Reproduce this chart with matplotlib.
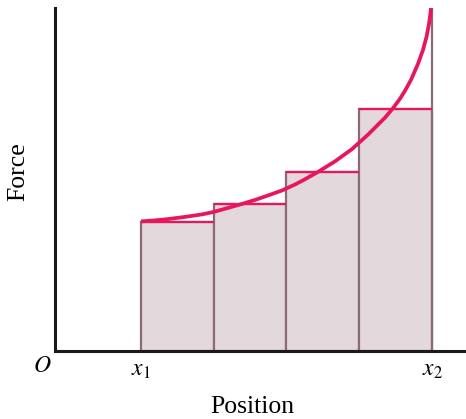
import numpy as np
import matplotlib
matplotlib.use('Agg')
import matplotlib.pyplot as plt

plt.rcParams['font.family'] = ['Liberation Serif', 'DejaVu Serif']
plt.rcParams['mathtext.fontset'] = 'stix'

# curve (position, force), arbitrary units
curve_x = [86, 100, 113, 130, 147, 158, 173, 187, 200, 213, 227, 240, 247, 263,
           280, 297, 313, 330, 338, 345, 350, 356, 363, 368, 371.5, 374, 375.5, 376]
curve_y = [130, 131, 132.3, 134.5, 137, 139.3, 143.5, 147.5, 151.5, 156, 161, 167, 170.6, 179.6,
           190.2, 202.5, 217, 234, 243.5, 253, 261, 272, 288, 302, 315, 328, 339, 344]

# rectangles between x1 and x2
bar_left = [86, 158.7, 231.3, 304]
bar_width = 72.7
bar_height = [129, 147, 180, 243]

x1, x2 = 86, 376.7

fill_col = '#e3d9dc'
edge_col = '#8c6a75'
curve_col = '#e8175d'

fig = plt.figure(figsize=(4.66, 4.19), dpi=100)
ax = fig.add_axes([55 / 466, 68 / 419, 411 / 466, 343 / 419])

ax.bar(bar_left, bar_height, width=bar_width, align='edge',
       color=fill_col, edgecolor=edge_col, linewidth=1.6, zorder=1)
# magenta tops of the bars
ax.hlines(bar_height, bar_left, np.array(bar_left) + bar_width,
          color=curve_col, linewidth=1.6, zorder=2)
ax.vlines(x2, 0, 344, color=edge_col, linewidth=1.6, zorder=1)

ax.plot(curve_x, curve_y, color=curve_col, linewidth=2.7,
        solid_capstyle='butt', solid_joinstyle='round', zorder=3)

ax.set_xlim(0, 411)
ax.set_ylim(0, 344)
ax.set_xticks([])
ax.set_yticks([])
for s in ['top', 'right']:
    ax.spines[s].set_visible(False)
for s in ['left', 'bottom']:
    ax.spines[s].set_linewidth(2.2)
    ax.spines[s].set_color('#1a1a1a')
    ax.spines[s].set_zorder(5)

ax.text(-13, -16, '$O$', fontsize=17, ha='center', va='center')
ax.text(x1, -20, '$x_1$', fontsize=17, ha='center', va='center')
ax.text(x2 + 1, -20, '$x_2$', fontsize=17, ha='center', va='center')
ax.text(197, -56, 'Position', fontsize=18.5, ha='center', va='center')
ax.text(-37, 180, 'Force', fontsize=18.5, ha='center', va='center', rotation=90)

fig.savefig('out.png', dpi=100)
